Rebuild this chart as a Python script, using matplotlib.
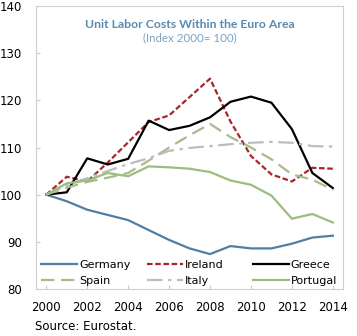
import matplotlib
matplotlib.use("Agg")
import matplotlib.pyplot as plt

years = list(range(2000, 2015))

germany = [100, 98.6, 96.8, 95.7, 94.6, 92.5, 90.4, 88.6, 87.4, 89.1, 88.6, 88.6, 89.6, 90.9, 91.3]
ireland = [100, 103.8, 102.8, 106.8, 111.1, 115.4, 116.8, 120.7, 124.6, 115.5, 108.2, 104.3, 102.8, 105.7, 105.5]
greece = [100, 100.5, 107.7, 106.4, 107.6, 115.7, 113.7, 114.6, 116.4, 119.7, 120.8, 119.5, 113.9, 104.6, 101.4]
spain = [100, 101.5, 102.7, 103.6, 104.6, 107.2, 110.0, 112.6, 115.0, 112.2, 110.0, 107.5, 104.3, 103.2, 101.0]
italy = [100, 102.0, 103.5, 105.0, 106.5, 107.7, 109.3, 109.9, 110.3, 110.7, 111.0, 111.2, 111.0, 110.3, 110.2]
portugal = [100, 102.4, 103.0, 104.6, 103.9, 106.0, 105.8, 105.5, 104.8, 103.0, 102.1, 99.8, 94.9, 95.9, 94.1]

fig = plt.figure(figsize=(3.57, 3.36), dpi=100)
ax = fig.add_axes([0.101, 0.140, 0.860, 0.842])

l_de, = ax.plot(years, germany, color="#4f7fa6", lw=1.6, label="Germany")
l_ie, = ax.plot(years, ireland, color="#a8262a", lw=1.6, ls=(0, (2.5, 1.2)), label="Ireland")
l_gr, = ax.plot(years, greece, color="black", lw=1.6, label="Greece")
l_es, = ax.plot(years, spain, color="#a8bb8a", lw=1.6, ls=(0, (6, 3)), label="Spain")
l_it, = ax.plot(years, italy, color="#bdbdbd", lw=1.6, ls=(0, (7, 2.5, 1.5, 2.5)), label="Italy")
l_pt, = ax.plot(years, portugal, color="#9bbd7d", lw=1.6, label="Portugal")

ax.set_xlim(1999.5, 2014.5)
ax.set_ylim(80, 140)
ax.set_xticks(range(2000, 2015, 2))
ax.set_yticks(range(80, 141, 10))
ax.tick_params(axis="both", direction="in", length=3, color="#c8c8c8", labelsize=8.5, pad=9)
ax.tick_params(axis="y", pad=10)
for s in ax.spines.values():
    s.set_color("#cfcfcf")
    s.set_linewidth(0.8)

ax.text(0.5, 0.935, "Unit Labor Costs Within the Euro Area", transform=ax.transAxes,
        ha="center", va="center", fontsize=8.8, fontweight="bold", color="#5a8bb0",
        family="Lato")
ax.text(0.5, 0.888, "(Index 2000= 100)", transform=ax.transAxes,
        ha="center", va="center", fontsize=8.3, color="#7aa3c4", family="Lato")

# three one-column legends so the columns sit at fixed spots like the original
cols = [([l_de, l_es], 0.0), ([l_ie, l_it], 0.345), ([l_gr, l_pt], 0.69)]
legs = []
for handles, x0 in cols:
    leg = ax.legend(handles=handles, loc="lower left", bbox_to_anchor=(x0 - 0.005, -0.012),
                    frameon=False, fontsize=8, handlelength=3.2, handletextpad=0.2,
                    labelspacing=0.5, borderaxespad=0.2)
    legs.append(leg)
for leg in legs[:-1]:
    ax.add_artist(leg)

fig.text(0.098, 0.008, "Source: Eurostat.", fontsize=8.5, ha="left", va="bottom")

fig.savefig("out.png", dpi=100)
